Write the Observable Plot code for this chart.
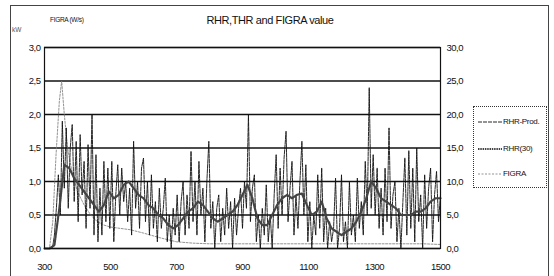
<!DOCTYPE html>
<html>
<head>
<meta charset="utf-8">
<script src="https://cdn.jsdelivr.net/npm/d3@7"></script>
<script src="https://cdn.jsdelivr.net/npm/@observablehq/plot@0.6"></script>
<style>
  html, body { margin: 0; padding: 0; background: #fff; }
  #wrap { position: relative; width: 554px; height: 276px; overflow: hidden; font-family: "Liberation Sans", Arial, sans-serif; color: #111; }
  #chart { position: absolute; left: 0; top: 0; }
  .abs { position: absolute; white-space: nowrap; }
  #frame { position: absolute; left: 10px; top: 5px; width: 539px; height: 290px; border: 1.5px solid #444; box-sizing: border-box; }
  #title { left: 150px; width: 240px; top: 14px; text-align: center; font-size: 11px; letter-spacing: -0.4px; }
  #figraUnit { left: 50px; top: 16px; font-size: 6.5px; letter-spacing: -0.3px; }
  #kw { left: 12px; top: 26px; font-size: 6.5px; color: #555; }
  #legend { left: 473px; top: 106px; width: 74px; height: 82px; border: 1px dotted #333; box-sizing: border-box; background: #fff; }
  .item { position: absolute; left: 4px; font-size: 8px; letter-spacing: -0.3px; display: flex; align-items: center; }
  .item svg { margin-right: 1px; }
</style>
</head>
<body>
<div id="wrap">
  <div id="chart"></div>
  <div id="frame"></div>
  <div id="title" class="abs">RHR,THR and FIGRA value</div>
  <div id="figraUnit" class="abs">FIGRA (W/s)</div>
  <div id="kw" class="abs">kW</div>
  <div id="legend" class="abs"></div>
</div>
<script>
// ---- Data ----
const xTicks = [300, 500, 700, 900, 1100, 1300, 1500];
const yTicks = [0, 0.5, 1.0, 1.5, 2.0, 2.5, 3.0];

// RHR-Prod. (kW), sampled every 6 s from 300 s
const prodStart = 300, prodStep = 6;
const rhrProd = [
  0, 0, 0, 0, 0, 0.2, 0.6, 1.1, 0.5, 1.9,
  0.9, 1.8, 0.6, 1.5, 1.85, 0.7, 1.6, 0.4, 1.7, 0.8,
  1.3, 0.3, 1.55, 0.6, 2.0, 0.2, 1.4, 0.1, 0.9, 0.2,
  1.3, 0.4, 1.2, 0.3, 1.3, 0.1, 0.8, 1.25, 0.5, 1.2,
  0.7, 1.0, 0.4, 0.9, 0.2, 1.6, 0.6, 1.0, 0.3, 1.2,
  1.35, 0.4, 1.0, 0.2, 1.1, 0.3, 0.7, 0.1, 0.9, 0.3,
  0.6, 1.05, 0.1, 0.5, 0.0, 0.6, 0.2, 0.8, 0.1, 0.7,
  1.0, 0.2, 0.8, 0.3, 1.45, 0.4, 1.0, 0.2, 1.3, 0.5,
  0.9, 0.1, 1.0, 1.6, 0.3, 0.7, 0.0, 0.6, 0.8, 0.1,
  0.6, 0.2, 0.9, 0.3, 0.7, 0.0, 0.75, 0.2, 0.6, 0.9,
  0.3, 1.0, 0.6, 2.0, 0.4, 0.9, 1.1, 0.1, 0.5, 0.0,
  0.6, 0.2, 0.95, 0.1, 0.5, 0.0, 0.8, 1.4, 0.3, 1.2,
  0.5, 1.35, 1.75, 0.4, 0.9, 1.3, 0.2, 0.8, 0.3, 1.0,
  1.6, 0.5, 1.25, 0.1, 0.7, 0.0, 0.5, 0.2, 1.1, 0.3,
  1.2, 0.1, 0.6, 0.0, 0.4, 0.1, 0.3, 1.05, 0.0, 0.3,
  1.1, 0.1, 0.4, 0.0, 1.0, 0.2, 0.5, 0.1, 1.05, 0.3,
  0.7, 0.2, 1.3, 0.5, 2.4, 0.6, 1.4, 0.5, 1.2, 0.3,
  0.9, 0.2, 1.2, 0.4, 1.8, 0.3, 0.8, 1.0, 0.1, 0.6,
  0.0, 0.7, 1.35, 0.2, 1.46, 0.3, 1.2, 0.1, 1.5, 0.4,
  0.8, 0.0, 1.1, 0.3, 0.9, 1.2, 0.1, 0.8, 1.15, 0.4,
  0.8
];

// RHR(30) (kW), sampled every 15 s from 300 s
const avgStart = 300, avgStep = 15;
const rhr30 = [
  0, 0, 0.05, 0.6, 1.25, 1.2, 1.05, 0.95, 0.85, 0.75,
  0.65, 0.55, 0.65, 0.85, 0.75, 0.8, 0.95, 1.0, 0.9, 0.8,
  0.75, 0.65, 0.6, 0.5, 0.45, 0.35, 0.3, 0.35, 0.45, 0.55,
  0.6, 0.7, 0.65, 0.55, 0.45, 0.4, 0.45, 0.5, 0.55, 0.65,
  0.8, 0.95, 0.75, 0.45, 0.35, 0.35, 0.5, 0.65, 0.75, 0.8,
  0.75, 0.8, 0.82, 0.65, 0.5, 0.55, 0.7, 0.45, 0.3, 0.25,
  0.2, 0.25, 0.3, 0.4, 0.55, 0.75, 1.0, 0.9, 0.75, 0.7,
  0.65, 0.6, 0.5, 0.5, 0.5, 0.55, 0.55, 0.6, 0.7, 0.75,
  0.75
];

// FIGRA (W/s), right axis
const figraT = [300, 315, 325, 335, 345, 352, 360, 370, 385, 400, 420, 440, 460, 480, 500, 530, 560, 600, 650, 700, 750, 800, 850, 900, 950, 1000, 1050, 1100, 1150, 1200, 1250, 1300, 1350, 1400, 1450, 1500];
const figraV = [0, 0, 4, 14, 22, 25, 20, 15, 11, 8.5, 6.5, 5, 4, 3.5, 3.2, 3.0, 2.8, 2.3, 1.6, 1.0, 0.8, 0.7, 0.7, 0.7, 0.7, 0.7, 0.7, 0.7, 0.7, 0.7, 0.7, 0.7, 0.7, 0.7, 0.7, 0.6];

const seriesNames = ["RHR-Prod.", "RHR(30)", "FIGRA"];

// ---- Build tables ----
const prodData = rhrProd.map((v, i) => ({t: prodStart + i * prodStep, v}));
const avgData = rhr30.map((v, i) => ({t: avgStart + i * avgStep, v}));
const figData = figraT.map((t, i) => ({t, v: figraV[i]}));
const fmt = d => d.toFixed(1).replace(".", ",");

const styles = {
  "RHR-Prod.": {stroke: "#111", strokeWidth: 0.9, strokeDasharray: "4,1"},
  "RHR(30)": {stroke: "#444", strokeWidth: 2.2, strokeDasharray: "1.5,0.8"},
  "FIGRA": {stroke: "#777", strokeWidth: 0.8, strokeDasharray: "2,1.5"}
};

const chart = Plot.plot({
  width: 554, height: 276,
  marginLeft: 44, marginRight: 114, marginTop: 47, marginBottom: 28,
  style: {fontFamily: '"Liberation Sans", Arial, sans-serif', fontSize: "9.5px", letterSpacing: "-0.5px", color: "#111", background: "transparent", overflow: "visible"},
  x: {domain: [300, 1500]},
  y: {domain: [0, 3]},
  marks: [
    Plot.ruleY(yTicks, {stroke: "#111", strokeWidth: 1.3}),
    Plot.line(figData, {x: "t", y: d => d.v / 10, ...styles["FIGRA"]}),
    Plot.line(prodData, {x: "t", y: "v", ...styles["RHR-Prod."]}),
    Plot.line(avgData, {x: "t", y: "v", ...styles["RHR(30)"]}),
    Plot.frame({stroke: "#111", strokeWidth: 1.2}),
    Plot.axisX({ticks: xTicks, tickSize: 0, tickPadding: 15, tickFormat: d => String(d), label: null}),
    Plot.axisY({anchor: "left", ticks: yTicks, tickSize: 0, tickPadding: 4, tickFormat: fmt, label: null}),
    Plot.axisY({anchor: "right", ticks: yTicks, tickSize: 0, tickPadding: 6, tickFormat: d => fmt(d * 10), label: null})
  ]
});
document.getElementById("chart").appendChild(chart);

// ---- Legend ----
const legend = document.getElementById("legend");
const tops = [10, 37, 62];
seriesNames.forEach((name, i) => {
  const s = styles[name];
  const item = document.createElement("div");
  item.className = "item";
  item.style.top = tops[i] + "px";
  item.innerHTML = `<svg width="24" height="6"><line x1="0" y1="3" x2="24" y2="3" stroke="${s.stroke}" stroke-width="${s.strokeWidth}" stroke-dasharray="${s.strokeDasharray}"/></svg><span>${name}</span>`;
  legend.appendChild(item);
});
</script>
</body>
</html>
